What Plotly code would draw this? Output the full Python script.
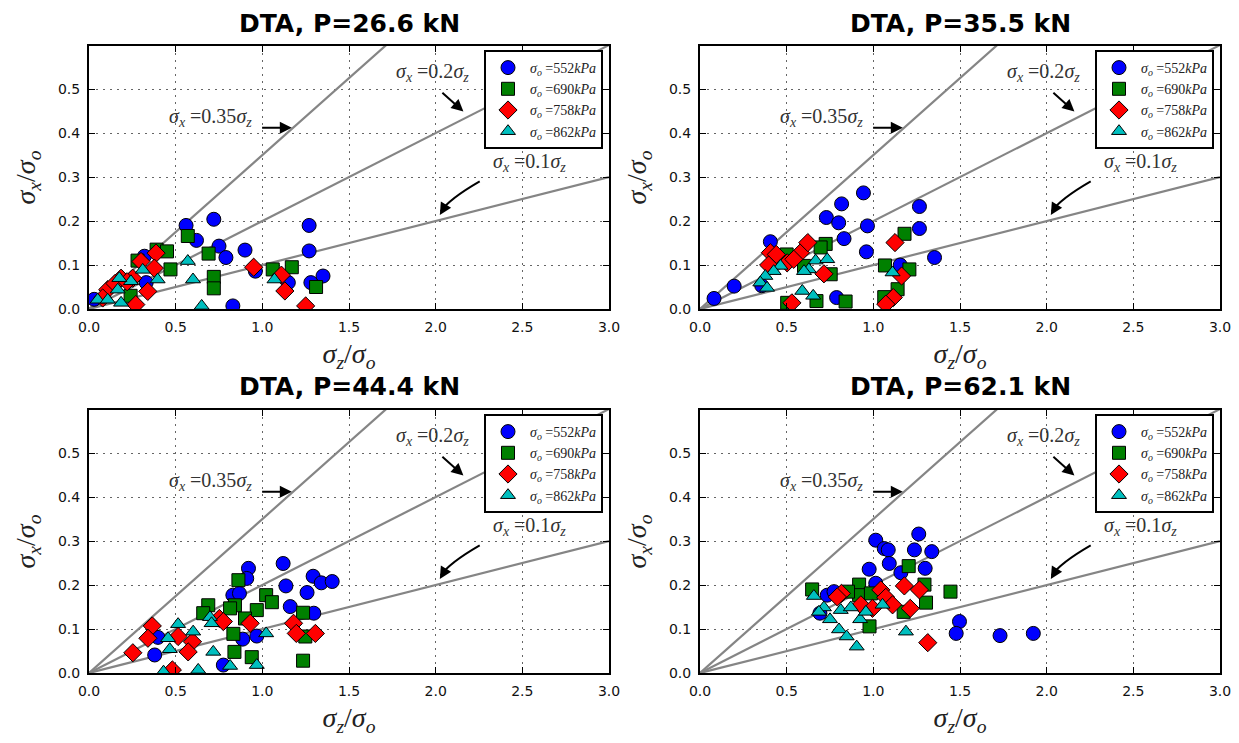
import plotly.graph_objects as go

# ---- data -------------------------------------------------------------
PANEL_TITLES = ["DTA, P=26.6 kN", "DTA, P=35.5 kN", "DTA, P=44.4 kN", "DTA, P=62.1 kN"]
SIGMA_O = ["552", "690", "758", "862"]

X_TICKS = [0.0, 0.5, 1.0, 1.5, 2.0, 2.5, 3.0]
Y_TICKS = [0.0, 0.1, 0.2, 0.3, 0.4, 0.5]

GUIDE_SLOPES = [0.35, 0.2, 0.1]
GUIDE_X = [0.0, 3.0]
GUIDE_LABELS = ["0.35", "0.2", "0.1"]

# P = 26.6 kN
p1_552_x = [0.03, 0.32, 0.33, 0.56, 0.62, 0.72, 0.75, 0.79, 0.90, 0.83, 0.96, 1.27, 1.27, 1.35, 1.28, 1.15]
p1_552_y = [0.022, 0.120, 0.060, 0.190, 0.156, 0.204, 0.143, 0.117, 0.134, 0.007, 0.086, 0.190, 0.132, 0.075, 0.060, 0.060]
p1_690_x = [0.24, 0.28, 0.39, 0.45, 0.47, 0.57, 0.69, 0.72, 0.72, 1.06, 1.17, 1.31]
p1_690_y = [0.030, 0.110, 0.135, 0.131, 0.090, 0.166, 0.126, 0.073, 0.047, 0.090, 0.095, 0.050]
p1_758_x = [0.30, 0.387, 0.377, 0.339, 0.252, 0.185, 0.108, 0.079, 0.27, 0.95, 1.11, 1.13, 1.25, 0.15, 0.22]
p1_758_y = [0.108, 0.127, 0.093, 0.040, 0.070, 0.070, 0.044, 0.025, 0.010, 0.095, 0.077, 0.041, 0.007, 0.058, 0.062]
p1_862_x = [0.57, 0.60, 0.65, 1.07, 0.396, 0.31, 0.242, 0.175, 0.166, 0.05, 0.108, 0.185]
p1_862_y = [0.109, 0.067, 0.007, 0.067, 0.067, 0.089, 0.063, 0.070, 0.044, 0.021, 0.021, 0.014]

# P = 35.5 kN
p2_552_x = [0.081, 0.197, 0.356, 0.406, 0.729, 0.80, 0.817, 0.943, 0.966, 0.831, 0.96, 1.266, 1.266, 1.353, 1.155, 0.788]
p2_552_y = [0.024, 0.052, 0.053, 0.153, 0.208, 0.196, 0.239, 0.264, 0.189, 0.160, 0.130, 0.233, 0.183, 0.117, 0.100, 0.026]
p2_690_x = [1.18, 0.725, 0.696, 0.50, 0.45, 0.60, 0.754, 1.067, 1.208, 1.14, 1.063, 0.84, 0.672, 0.503]
p2_690_y = [0.171, 0.148, 0.140, 0.124, 0.110, 0.098, 0.079, 0.099, 0.090, 0.045, 0.027, 0.017, 0.018, 0.014]
p2_758_x = [0.406, 0.44, 0.503, 0.58, 0.622, 0.541, 0.715, 1.125, 1.163, 1.115, 1.072, 0.53, 0.396]
p2_758_y = [0.128, 0.124, 0.105, 0.128, 0.151, 0.113, 0.080, 0.151, 0.075, 0.026, 0.011, 0.014, 0.100]
p2_862_x = [0.667, 0.734, 0.628, 0.60, 0.59, 0.653, 1.111, 0.464, 0.425, 0.377, 0.348, 0.387]
p2_862_y = [0.110, 0.113, 0.090, 0.086, 0.041, 0.030, 0.083, 0.098, 0.086, 0.075, 0.060, 0.048]

# P = 44.4 kN
p3_552_x = [0.92, 0.91, 1.12, 1.293, 1.34, 1.403, 1.136, 1.258, 0.83, 0.868, 1.161, 1.297, 0.968, 0.887, 0.398, 0.379, 0.775]
p3_552_y = [0.238, 0.215, 0.249, 0.220, 0.205, 0.208, 0.198, 0.183, 0.177, 0.181, 0.151, 0.136, 0.084, 0.077, 0.081, 0.041, 0.018]
p3_690_x = [0.862, 0.688, 0.659, 0.842, 0.814, 1.022, 1.055, 0.968, 0.90, 1.235, 0.833, 0.839, 0.939, 1.235, 1.248]
p3_690_y = [0.211, 0.154, 0.136, 0.154, 0.147, 0.177, 0.161, 0.143, 0.124, 0.137, 0.089, 0.048, 0.036, 0.028, 0.083]
p3_758_x = [0.365, 0.34, 0.253, 0.514, 0.597, 0.572, 0.752, 0.775, 0.93, 1.18, 1.196, 1.306, 0.481]
p3_758_y = [0.107, 0.079, 0.046, 0.083, 0.071, 0.048, 0.124, 0.117, 0.113, 0.113, 0.090, 0.090, 0.007]
p3_862_x = [0.514, 0.456, 0.466, 0.601, 0.698, 0.707, 1.022, 0.717, 0.814, 0.968, 0.63, 0.43]
p3_862_y = [0.111, 0.079, 0.054, 0.094, 0.127, 0.113, 0.090, 0.048, 0.016, 0.018, 0.007, 0.003]

# P = 62.1 kN
p4_552_x = [1.014, 1.063, 1.086, 1.262, 1.237, 1.337, 1.092, 1.299, 0.976, 1.159, 1.014, 0.734, 0.773, 0.692, 1.497, 1.478, 1.731, 1.923]
p4_552_y = [0.302, 0.283, 0.280, 0.316, 0.280, 0.276, 0.249, 0.238, 0.236, 0.228, 0.204, 0.177, 0.185, 0.136, 0.117, 0.090, 0.085, 0.090]
p4_690_x = [0.647, 0.918, 0.918, 1.204, 1.295, 1.445, 1.304, 1.175, 0.986, 0.854, 0.978]
p4_690_y = [0.190, 0.201, 0.177, 0.243, 0.201, 0.185, 0.160, 0.139, 0.181, 0.185, 0.106]
p4_758_x = [0.816, 0.792, 0.928, 1.043, 1.072, 1.111, 1.179, 1.266, 1.213, 1.314, 0.995]
p4_758_y = [0.181, 0.173, 0.155, 0.189, 0.172, 0.155, 0.198, 0.189, 0.147, 0.069, 0.147]
p4_862_x = [0.657, 0.715, 0.686, 0.812, 0.87, 0.75, 0.802, 0.846, 0.904, 0.924, 0.957, 1.053, 1.188]
p4_862_y = [0.175, 0.149, 0.139, 0.143, 0.149, 0.122, 0.099, 0.083, 0.060, 0.122, 0.139, 0.155, 0.094]

PANELS = [
    [(p1_552_x, p1_552_y), (p1_690_x, p1_690_y), (p1_758_x, p1_758_y), (p1_862_x, p1_862_y)],
    [(p2_552_x, p2_552_y), (p2_690_x, p2_690_y), (p2_758_x, p2_758_y), (p2_862_x, p2_862_y)],
    [(p3_552_x, p3_552_y), (p3_690_x, p3_690_y), (p3_758_x, p3_758_y), (p3_862_x, p3_862_y)],
    [(p4_552_x, p4_552_y), (p4_690_x, p4_690_y), (p4_758_x, p4_758_y), (p4_862_x, p4_862_y)],
]

# ---- styling ------------------------------------------------------------
COLORS = ["#0000ff", "#008000", "#ff0000", "#00bfbf"]
SYMBOLS = ["circle", "square", "diamond", "triangle-up"]
SIZES = [14, 13, 14, 13]

W, H = 1239, 743
X_DOMAINS = [[89 / W, 609 / W], [700 / W, 1220 / W]]
Y_DOMAINS = [[1 - 309 / H, 1 - 46 / H], [1 - 673 / H, 1 - 410 / H]]

TICK_FONT = dict(family="DejaVu Sans", size=14, color="#111")
SERIF = "Liberation Serif"

fig = go.Figure()
layout = dict(
    width=W, height=H, autosize=False,
    margin=dict(l=0, r=0, t=0, b=0, autoexpand=False),
    paper_bgcolor="white", plot_bgcolor="white",
    showlegend=True,
)
annotations = []
shapes = []

for p in range(4):
    row, col = divmod(p, 2)
    sfx = "" if p == 0 else str(p + 1)
    xa, ya = "x" + sfx, "y" + sfx
    leg = "legend" + sfx

    # guide lines sigma_x = k * sigma_z
    for k in GUIDE_SLOPES:
        fig.add_trace(go.Scatter(
            x=GUIDE_X, y=[k * v for v in GUIDE_X], mode="lines",
            line=dict(color="#858585", width=2.2), hoverinfo="skip",
            showlegend=False, xaxis=xa, yaxis=ya))

    # measured stress ratios
    for s, (xs, ys) in enumerate(PANELS[p]):
        fig.add_trace(go.Scatter(
            x=xs, y=ys, mode="markers",
            name="<i>σ<sub>o</sub></i> =" + SIGMA_O[s] + "<i>kPa</i>",
            marker=dict(color=COLORS[s], symbol=SYMBOLS[s], size=SIZES[s],
                        line=dict(color="black", width=1)),
            xaxis=xa, yaxis=ya, legend=leg))

    axis_common = dict(
        showline=True, linecolor="black", linewidth=2, mirror="allticks",
        ticks="inside", ticklen=6, tickwidth=1, tickcolor="black",
        showgrid=True, gridcolor="#666", gridwidth=1, griddash="2px,5px",
        zeroline=False, tickfont=TICK_FONT, automargin=False,
        ticklabelstandoff=4,
    )
    layout["xaxis" + sfx] = dict(
        axis_common, domain=X_DOMAINS[col], range=[0, 3.0], anchor=ya,
        tickvals=X_TICKS, tickformat=".1f",
        title=dict(text="<i>σ<sub>z</sub></i>/<i>σ<sub>o</sub></i>",
                   font=dict(family=SERIF, size=28, color="#222"), standoff=10))
    layout["yaxis" + sfx] = dict(
        axis_common, domain=Y_DOMAINS[row], range=[0, 0.598], anchor=xa,
        tickvals=Y_TICKS, tickformat=".1f",
        title=dict(text="<i>σ<sub>x</sub></i>/<i>σ<sub>o</sub></i>",
                   font=dict(family=SERIF, size=28, color="#222"), standoff=14))

    x0, x1 = X_DOMAINS[col]
    y0, y1 = Y_DOMAINS[row]
    layout[leg] = dict(
        x=x1 - 6 / W, y=y1 - 4 / H, xanchor="right", yanchor="top",
        bgcolor="white", bordercolor="black", borderwidth=2,
        font=dict(family=SERIF, size=14, color="#222"),
        itemwidth=34, tracegroupgap=0)

    # panel title
    annotations.append(dict(
        text="<b>" + PANEL_TITLES[p] + "</b>", xref="paper", yref="paper",
        x=(x0 + x1) / 2, y=y1 + 23 / H, xanchor="center", yanchor="middle",
        showarrow=False, font=dict(family="DejaVu Sans", size=25, color="black")))

    lab_font = dict(family=SERIF, size=20, color="#333")
    lab_pos = [(0.70, 0.435), (1.98, 0.538), (2.54, 0.332)]
    for (lx, ly), g in zip(lab_pos, GUIDE_LABELS):
        annotations.append(dict(
            text="<i>σ<sub>x</sub></i> =" + g + "<i>σ<sub>z</sub></i>",
            xref=xa, yref=ya, x=lx, y=ly, showarrow=False, font=lab_font))

    # straight pointers toward the 0.35 and 0.2 guide lines
    for (hx, hy, tx, ty) in [(1.17, 0.412, 0.99, 0.412), (2.16, 0.449, 2.03, 0.495)]:
        annotations.append(dict(
            text="", xref=xa, yref=ya, x=hx, y=hy, axref=xa, ayref=ya, ax=tx, ay=ty,
            showarrow=True, arrowhead=2, arrowsize=1.2, arrowwidth=2,
            arrowcolor="black", standoff=0, startstandoff=0))

    # curved pointer toward the 0.1 guide line
    shapes.append(dict(
        type="path", xref=xa, yref=ya,
        path="M 2.254,0.290 Q 2.079,0.250 2.030,0.222",
        line=dict(color="black", width=2)))
    annotations.append(dict(
        text="", xref=xa, yref=ya, x=2.024, y=0.214, ax=6, ay=-10,
        showarrow=True, arrowhead=2, arrowsize=1.2, arrowwidth=2,
        arrowcolor="black", standoff=0))

layout["annotations"] = annotations
layout["shapes"] = shapes
fig.update_layout(**layout)
fig.write_html("out.html")
